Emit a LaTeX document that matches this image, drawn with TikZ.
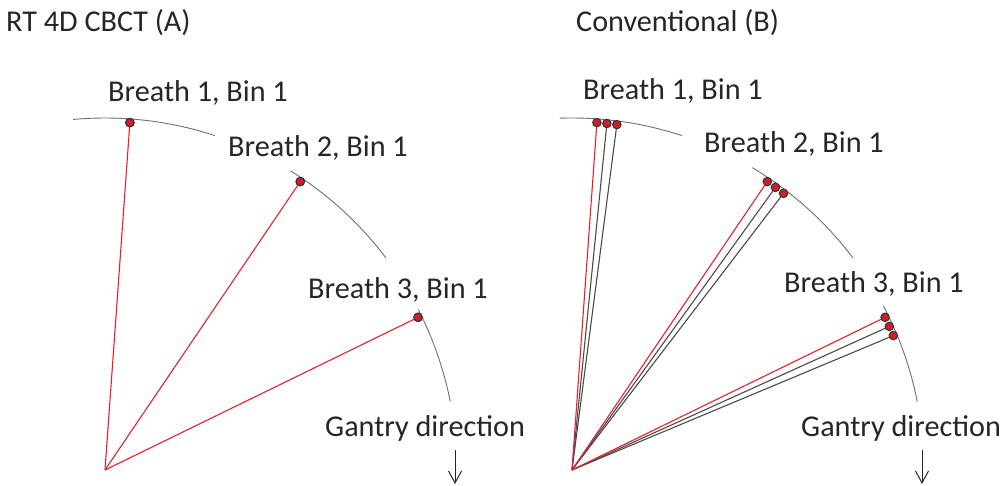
\documentclass[tikz,border=0pt]{standalone}
\usepackage{fontspec}
\setmainfont{Carlito}
\usetikzlibrary{calc,arrows.meta}
\definecolor{txt}{HTML}{262626}
\definecolor{rayred}{HTML}{E8202A}
\definecolor{raygray}{HTML}{4A4A4A}
\definecolor{arcgray}{HTML}{707070}
\definecolor{dotred}{HTML}{D01E28}
\tikzset{
  lbl/.style={anchor=base west,inner sep=0pt,text=txt,font=\fontsize{30.2}{35}\selectfont},
  arcline/.style={draw=arcgray,line width=0.9pt},
  redray/.style={draw=rayred,line width=1.1pt},
  grayray/.style={draw=raygray,line width=1.1pt},
  dotmark/.style={circle,fill=dotred,draw=black!80,line width=1pt,minimum size=8.5pt,inner sep=0pt},
  gantryarrow/.style={draw=txt,line width=1pt,-{Straight Barb[length=12pt,width=13pt,line width=1pt]}}
}
\begin{document}
\begin{tikzpicture}[x=1pt,y=-1pt]
\useasboundingbox (0,0) rectangle (1005,486);
% ---------- Panel A ----------
\coordinate (CL) at (105,470);
\node[lbl] (titleA) at (6,32) {RT 4D CBCT (A)};
\node[lbl] (a1) at (108,102) {Breath 1, Bin 1};
\node[lbl] (a2) at (228,156.5) {Breath 2, Bin 1};
\node[lbl] (a3) at (308,298.5) {Breath 3, Bin 1};
\node[lbl] (ga) at (325,437) {Gantry direction};
\draw[arcline] ($(CL)+(-95.2:352)$) arc[start angle=-95.2,end angle=-71.8,radius=352];
\draw[arcline] ($(CL)+(-58.2:352)$) arc[start angle=-58.2,end angle=-37.1,radius=352];
\draw[arcline] ($(CL)+(-27.1:352)$) arc[start angle=-27.1,end angle=-11.2,radius=352];
\node[dotmark] (da1) at ($(CL)+(-85.9:348.3)$) {};
\node[dotmark] (da2) at ($(CL)+(-55.9:348.3)$) {};
\node[dotmark] (da3) at ($(CL)+(-26.0:348.3)$) {};
\draw[redray] (CL) -- (da1.center);
\draw[redray] (CL) -- (da2.center);
\draw[redray] (CL) -- (da3.center);
\node[dotmark] at (da1) {};
\node[dotmark] at (da2) {};
\node[dotmark] at (da3) {};
\coordinate (arA1) at (455,450);
\coordinate (arA2) at (455,484);
\draw[gantryarrow] (arA1) -- (arA2);
% ---------- Panel B ----------
\coordinate (CR) at (572,470);
\node[lbl] (titleB) at (576,32) {Conventional (B)};
\node[lbl] (b1) at (583,99.5) {Breath 1, Bin 1};
\node[lbl] (b2) at (704,152.5) {Breath 2, Bin 1};
\node[lbl] (b3) at (784,292.5) {Breath 3, Bin 1};
\node[lbl] (gb) at (801,437) {Gantry direction};
\draw[arcline] ($(CR)+(-92.0:352)$) arc[start angle=-92.0,end angle=-71.8,radius=352];
\draw[arcline] ($(CR)+(-59.2:352)$) arc[start angle=-59.2,end angle=-37.0,radius=352];
\draw[arcline] ($(CR)+(-27.8:352)$) arc[start angle=-27.8,end angle=-11.2,radius=352];
\foreach \a/\n in {85.9/1,55.9/2,26.0/3}{
  \coordinate (p\n a) at ($(CR)+(-\a:348.3)$);
  \coordinate (p\n b) at ($(CR)+({-(\a-1.65)}:348.3)$);
  \coordinate (p\n c) at ($(CR)+({-(\a-3.3)}:348.3)$);
  \draw[grayray] (CR) -- (p\n c);
  \draw[grayray] (CR) -- (p\n b);
  \draw[redray] (CR) -- (p\n a);
  \node[dotmark] at (p\n a) {};
  \node[dotmark] at (p\n b) {};
  \node[dotmark] at (p\n c) {};
}
\coordinate (arB1) at (922,450);
\coordinate (arB2) at (922,484);
\draw[gantryarrow] (arB1) -- (arB2);
\end{tikzpicture}
\end{document}
